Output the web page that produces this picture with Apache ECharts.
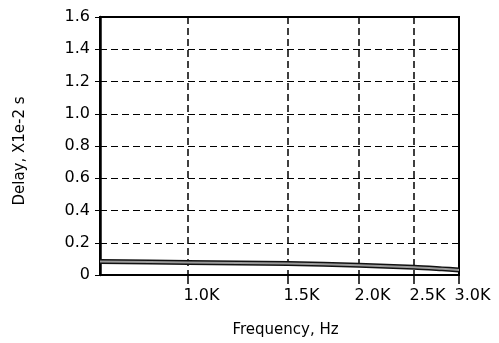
<!DOCTYPE html>
<html>
<head>
<meta charset="utf-8">
<script src="https://cdn.jsdelivr.net/npm/echarts@6/dist/echarts.min.js"></script>
<style>
  html, body { margin: 0; padding: 0; background: #fff; }
  #chart { width: 499px; height: 343px; }
</style>
</head>
<body>
<div id="chart"></div>
<script>
// Group delay vs. frequency
const frequencies = [700, 1000, 1500, 2000, 2500, 2800, 3000];
const delays = [0.084, 0.078, 0.071, 0.060, 0.048, 0.038, 0.031];
const xTicks = [1000, 1500, 2000, 2500, 3000];
const xTickLabels = ['1.0K', '1.5K', '2.0K', '2.5K', '3.0K'];

const points = frequencies.map((f, i) => [f, delays[i]]);
const FONT = 'DejaVu Sans';

const chart = echarts.init(document.getElementById('chart'), null, { renderer: 'canvas' });
chart.setOption({
  backgroundColor: '#fff',
  animation: false,
  grid: {
    left: 100, right: 40, top: 17, bottom: 68,
    show: true, borderColor: '#000', borderWidth: 2
  },
  xAxis: {
    type: 'log', logBase: 10, min: 700, max: 3000,
    name: 'Frequency, Hz', nameLocation: 'middle', nameGap: 48,
    nameTextStyle: { fontFamily: FONT, fontSize: 15, color: '#000', padding: [0, 0, 0, 12] },
    axisLine: { show: true, lineStyle: { color: '#000', width: 1.5 } },
    axisTick: { show: true, customValues: xTicks, length: 9, inside: false, lineStyle: { color: '#000', width: 1.5 } },
    axisLabel: {
      customValues: xTicks,
      formatter: v => xTickLabels[xTicks.indexOf(Math.round(v))] || '',
      fontFamily: FONT, fontSize: 16, color: '#000', margin: 13,
      padding: [0, 0, 0, 27]
    },
    splitLine: { show: true, lineStyle: { color: '#000', width: 1.5, type: [7, 4] } },
    minorTick: { show: false }, minorSplitLine: { show: false }
  },
  yAxis: {
    type: 'value', min: 0, max: 1.6, interval: 0.2,
    name: 'Delay, X1e-2 s', nameLocation: 'middle', nameGap: 72, nameRotate: 90,
    nameTextStyle: { fontFamily: FONT, fontSize: 15, color: '#000', padding: [0, 10, 0, 0] },
    axisLine: { show: true, lineStyle: { color: '#000', width: 2.5 } },
    axisTick: { show: true, length: 5, lineStyle: { color: '#000', width: 1 } },
    axisLabel: {
      formatter: v => (Math.abs(v) < 1e-9 ? '0' : v.toFixed(1)),
      fontFamily: FONT, fontSize: 16, color: '#000', margin: 10
    },
    splitLine: { show: true, lineStyle: { color: '#000', width: 1, type: [7, 4] } }
  },
  series: [
    {
      type: 'line', data: points, showSymbol: false, smooth: 0.3, z: 3,
      lineStyle: { color: '#111', width: 5 }
    },
    {
      type: 'line', data: points, showSymbol: false, smooth: 0.3, z: 4,
      lineStyle: { color: '#9a9a9a', width: 2 }
    }
  ]
});
</script>
</body>
</html>
